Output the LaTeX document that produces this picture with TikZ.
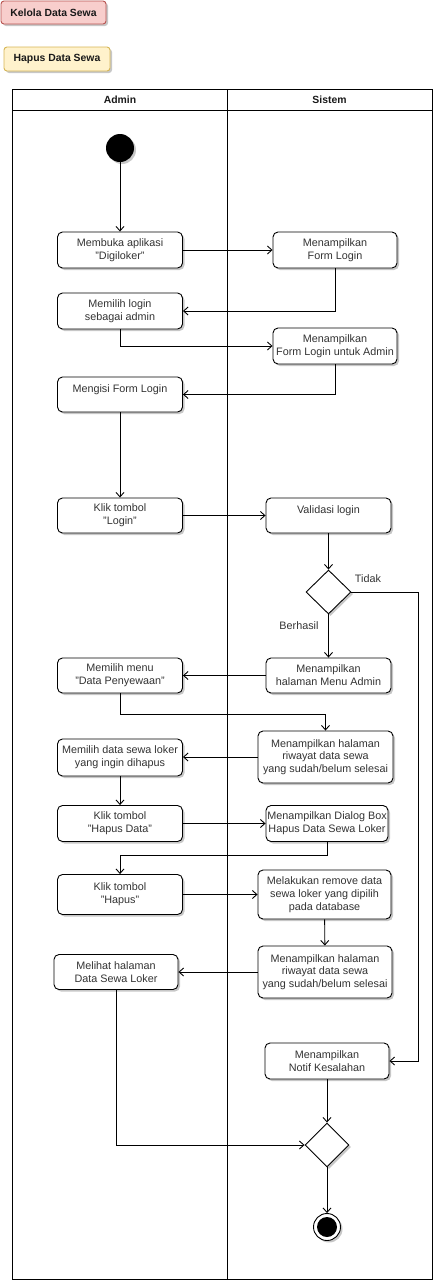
\documentclass[tikz,border=0pt]{standalone}
\usepackage{fontspec}
\setmainfont{Liberation Sans}
\usetikzlibrary{arrows.meta,shapes.geometric,shadows,calc}
\definecolor{txt}{HTML}{333333}
\definecolor{pinkf}{HTML}{F8CECC}
\definecolor{pinkd}{HTML}{B85450}
\definecolor{yelf}{HTML}{FFF2CC}
\definecolor{yeld}{HTML}{D6B656}
\tikzset{
  shd/.style={drop shadow={shadow xshift=2pt,shadow yshift=-2pt,fill=black,opacity=0.22}},
  act/.style={draw=black,line width=0.9pt,fill=white,rounded corners=5pt,shd,
    inner sep=0pt,align=center,text=txt,font=\fontsize{10.8}{12.8}\selectfont},
  dec/.style={draw=black,line width=0.9pt,fill=white,diamond,shd,inner sep=0pt},
  tag/.style={draw,line width=0.9pt,rounded corners=3pt,shd,inner sep=0pt,
    font=\bfseries\fontsize{10.4}{12}\selectfont,text=black!90},
  lane/.style={draw=black,line width=0.9pt},
  flow/.style={draw=black,line width=0.9pt,-{Straight Barb[length=4.5pt,width=8pt]}},
  lbl/.style={text=txt,font=\fontsize{10.8}{12.8}\selectfont,inner sep=0pt},
  hdr/.style={font=\bfseries\fontsize{10.4}{12}\selectfont,text=black!90,inner sep=0pt}
}
\begin{document}
\begin{tikzpicture}[x=1pt,y=-1pt]
\useasboundingbox (0,0) rectangle (433,1280);
% tags
\node[tag,fill=pinkf,draw=pinkd,minimum width=105,minimum height=23] (t1) at (53.5,12.5) {Kelola Data Sewa};
\node[tag,fill=yelf,draw=yeld,minimum width=106,minimum height=24] (t2) at (57,59) {Hapus Data Sewa};
% swimlanes
\draw[lane] (12,89) rectangle (432,1279);
\draw[lane] (12,110) -- (432,110);
\draw[lane] (227,89) -- (227,1279);
\node[hdr] (hA) at (120,100) {Admin};
\node[hdr] (hS) at (329.5,100) {Sistem};
% start
\node[circle,fill=black,minimum size=28,inner sep=0pt,shd] (start) at (120,148) {};
% actions
\node[act,minimum width=125,minimum height=36] (b1) at (120,250) {Membuka aplikasi\\"Digiloker"};
\node[act,minimum width=124,minimum height=36] (s1) at (335,250) {Menampilkan\\Form Login};
\node[act,minimum width=125,minimum height=36] (b2) at (120,311) {Memilih login\\sebagai admin};
\node[act,minimum width=124,minimum height=36] (s2) at (335,346) {Menampilkan\\Form Login untuk Admin};
\node[act,minimum width=125,minimum height=35] (b3) at (120,394.5) {Mengisi Form Login\\\phantom{X}};
\node[act,minimum width=125,minimum height=35] (b4) at (120,515.5) {Klik tombol\\"Login"};
\node[act,minimum width=125,minimum height=35] (s3) at (328.5,515.5) {Validasi login\\\phantom{X}};
\node[dec,minimum width=45,minimum height=44] (d1) at (328.5,592) {};
\node[act,minimum width=125,minimum height=35] (s4) at (328.5,675.5) {Menampilkan\\halaman Menu Admin};
\node[act,minimum width=125,minimum height=35] (b5) at (120,675.5) {Memilih menu\\"Data Penyewaan"};
\node[act,minimum width=135,minimum height=52] (s5) at (325.5,757) {Menampilkan halaman\\riwayat data sewa\\yang sudah/belum selesai};
\node[act,minimum width=125,minimum height=37] (b6) at (120,757.5) {Memilih data sewa loker\\yang ingin dihapus};
\node[act,minimum width=125,minimum height=36] (b7) at (120,823.5) {Klik tombol\\"Hapus Data"};
\node[act,minimum width=122,minimum height=36] (s6) at (327,823.5) {Menampilkan Dialog Box\\Hapus Data Sewa Loker};
\node[act,minimum width=125,minimum height=40] (b8) at (120,894.5) {Klik tombol\\"Hapus"};
\node[act,minimum width=133,minimum height=49] (s7) at (324.5,894.5) {Melakukan remove data\\sewa loker yang dipilih\\pada database};
\node[act,minimum width=134,minimum height=52] (s8) at (325,972) {Menampilkan halaman\\riwayat data sewa\\yang sudah/belum selesai};
\node[act,minimum width=124,minimum height=35] (b9) at (116,972) {Melihat halaman\\Data Sewa Loker};
\node[act,minimum width=124,minimum height=36] (s9) at (327,1061) {Menampilkan\\Notif Kesalahan};
\node[dec,minimum width=44,minimum height=44] (d2) at (327,1145) {};
\node[circle,draw=black,line width=0.9pt,fill=white,minimum size=27,inner sep=0pt,shd] (end) at (327,1227) {};
\node[circle,fill=black,minimum size=20,inner sep=0pt] (endin) at (end.center) {};
% labels
\node[lbl] (ltidak) at (368,579) {Tidak};
\node[lbl] (lberhasil) at (299,626) {Berhasil};
% flows
\draw[flow] (start) -- (b1);
\draw[flow] (b1) -- (s1);
\draw[flow] (s1.south) |- (b2.east);
\draw[flow] (b2.south) |- (s2.west);
\draw[flow] (s2.south) |- (b3.east);
\draw[flow] (b3) -- (b4);
\draw[flow] (b4) -- (s3);
\draw[flow] (s3) -- (d1);
\draw[flow] (d1) -- (s4);
\coordinate (cr) at (418,592);
\draw[flow] (d1.east) -- (cr) |- (s9.east);
\draw[flow] (s4) -- (b5);
\coordinate (c1) at (120,714);
\draw[flow] (b5.south) -- (c1) -| (s5.north);
\draw[flow] (s5.west) -- (b6.east |- s5.west);
\draw[flow] (b6) -- (b7);
\draw[flow] (b7) -- (s6);
\coordinate (c2) at (327,855);
\draw[flow] (s6.south) -- (c2) -| (b8.north);
\draw[flow] (b8) -- (s7);
\draw[flow] (s7) -- (s8);
\draw[flow] (s8) -- (b9);
\draw[flow] (b9.south) |- (d2.west);
\draw[flow] (s9) -- (d2);
\draw[flow] (d2) -- (end);
\end{tikzpicture}
\end{document}
